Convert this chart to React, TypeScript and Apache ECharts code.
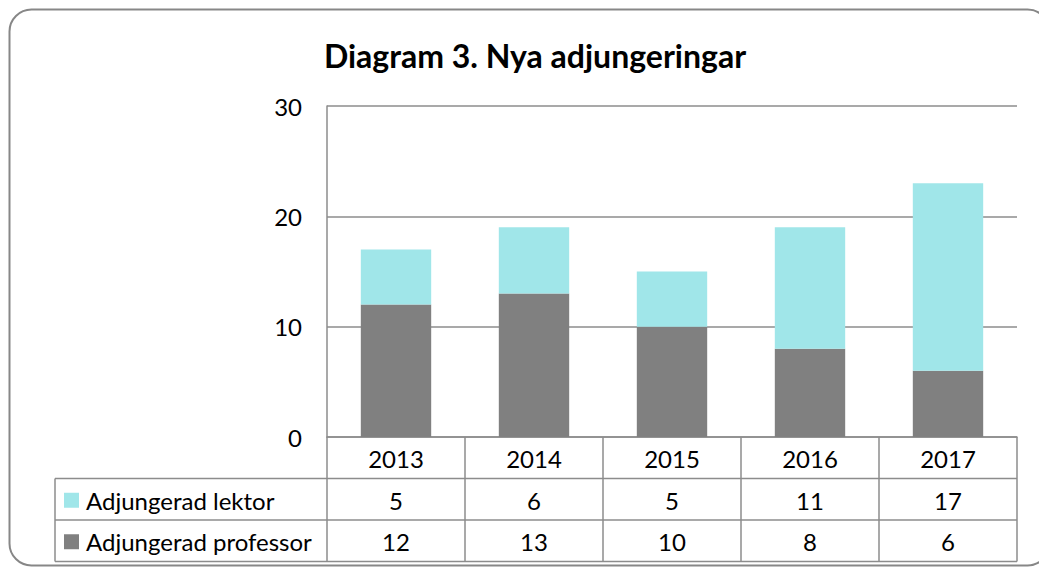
import React, { useEffect, useRef } from "react";
import * as echarts from "echarts";

const title = "Diagram 3. Nya adjungeringar";
const years = ["2013", "2014", "2015", "2016", "2017"];
const lektor = [5, 6, 5, 11, 17];
const professor = [12, 13, 10, 8, 6];
const seriesNames = ["Adjungerad lektor", "Adjungerad professor"];
const colors = ["#A0E6E9", "#808080"];
const yTicks = [0, 10, 20, 30];

const W = 1039;
const H = 567;
const FONT = "Lato, 'Open Sans', sans-serif";
const LINE = "#8c8c8c";
const FS = 24;

export default function App() {
  const ref = useRef<HTMLDivElement>(null);
  useEffect(() => {
    if (!ref.current) return;
    const chart = echarts.init(ref.current, null, { renderer: "svg" });
    const gl = 327, gr = 1017, gt = 106, gb = 437;
    const tableLeft = 55;
    const rowY = [437, 478.5, 520, 561.5];
    const colW = (gr - gl) / years.length;
    const g: any[] = [];
    g.push({
      type: "rect",
      shape: { x: 9.5, y: 9.5, width: 1040, height: 556, r: 22 },
      style: { fill: "none", stroke: "#878787", lineWidth: 2 },
      z: 1,
    });
    const hline = (x1: number, x2: number, y: number) =>
      g.push({ type: "line", shape: { x1, y1: y, x2, y2: y }, style: { stroke: LINE, lineWidth: 1.5 }, z: 10 });
    const vline = (x: number, y1: number, y2: number) =>
      g.push({ type: "line", shape: { x1: x, y1, x2: x, y2 }, style: { stroke: LINE, lineWidth: 1.5 }, z: 10 });
    hline(tableLeft, gr, rowY[1]);
    hline(tableLeft, gr, rowY[2]);
    hline(tableLeft, gr, rowY[3]);
    vline(tableLeft, rowY[1], rowY[3]);
    for (let i = 0; i <= years.length; i++) vline(gl + i * colW, gb, rowY[3]);
    const cellText = (text: string, x: number, y: number, align: string) =>
      g.push({
        type: "text",
        x,
        y,
        style: { text, fontSize: FS, fontFamily: FONT, fill: "#000", align, verticalAlign: "middle" },
        z: 11,
      });
    years.forEach((yr, i) => cellText(yr, gl + (i + 0.5) * colW, (rowY[0] + rowY[1]) / 2 + 1, "center"));
    [lektor, professor].forEach((arr, r) => {
      const cy = (rowY[r + 1] + rowY[r + 2]) / 2 + 1;
      g.push({
        type: "rect",
        shape: { x: 64, y: cy - 7.5, width: 15, height: 15 },
        style: { fill: colors[r] },
        z: 11,
      });
      cellText(seriesNames[r], 86, cy, "left");
      arr.forEach((v, i) => cellText(String(v), gl + (i + 0.5) * colW, cy, "center"));
    });

    chart.setOption({
      animation: false,
      backgroundColor: "#fff",
      title: {
        text: title,
        left: 530,
        textAlign: "center",
        top: 34,
        textStyle: { fontSize: 32, fontWeight: "bold", fontFamily: FONT, color: "#000" },
      },
      grid: { left: gl, right: W - gr, top: gt, bottom: H - gb },
      legend: { show: false },
      xAxis: {
        type: "category",
        data: years,
        axisLabel: { show: false },
        axisTick: { show: false },
        axisLine: { show: true, lineStyle: { color: LINE, width: 1.5 } },
      },
      yAxis: {
        type: "value",
        min: yTicks[0],
        max: yTicks[yTicks.length - 1],
        interval: 10,
        axisLine: { show: true, lineStyle: { color: LINE, width: 1.5 } },
        axisTick: { show: false },
        splitLine: { show: true, lineStyle: { color: LINE, width: 1.5 } },
        axisLabel: { fontSize: FS, fontFamily: FONT, color: "#000", margin: 25 },
      },
      series: [
        {
          name: seriesNames[1],
          type: "bar",
          stack: "total",
          data: professor,
          barCategoryGap: "49%",
          itemStyle: { color: colors[1] },
          z: 3,
        },
        {
          name: seriesNames[0],
          type: "bar",
          stack: "total",
          data: lektor,
          barCategoryGap: "49%",
          itemStyle: { color: colors[0] },
          z: 3,
        },
      ],
      graphic: g,
    });
    return () => chart.dispose();
  }, []);
  return (
    <div
      ref={ref}
      style={{ position: "fixed", left: 0, top: 0, width: W, height: H, background: "#fff" }}
    />
  );
}
